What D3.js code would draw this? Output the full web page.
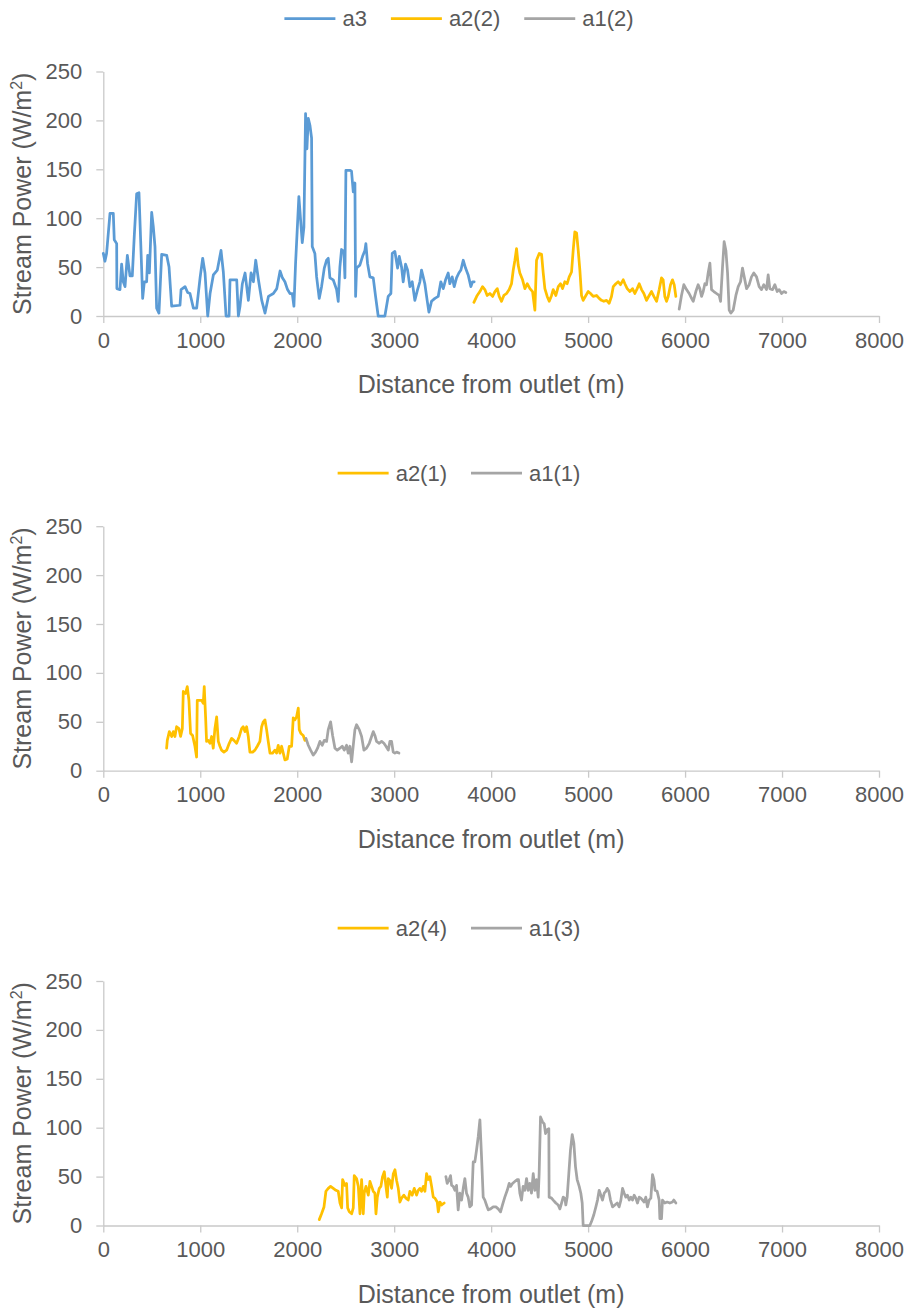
<!DOCTYPE html>
<html>
<head>
<meta charset="utf-8">
<script src="https://cdn.jsdelivr.net/npm/d3@7/dist/d3.min.js"></script>
<style>
  body { margin: 0; background: #fff; }
  text { font-family: "Liberation Sans", Arial, sans-serif; fill: #595959; }
</style>
</head>
<body>
<svg id="chart"></svg>
<script>
// tick labels
const xTicks = [0, 1000, 2000, 3000, 4000, 5000, 6000, 7000, 8000];
const yTicks = [0, 50, 100, 150, 200, 250];

// series: [distance from outlet (m), stream power (W/m2)]
const a3 = [[0,64],[17,56],[34,64],[69,105],[103,105],[113,78],[138,74],[140,28],[172,27],[189,53],[206,35],[224,30],[248,62],[275,41],[299,41],[320,83],[344,125],[368,126],[385,78],[406,18],[423,35],[447,35],[458,62],[475,44],[499,106],[516,91],[533,71],[550,8],[574,3],[602,63],[654,62],[678,50],[705,10],[791,11],[802,27],[843,30],[870,24],[894,23],[929,8],[963,8],[998,39],[1025,59],[1049,44],[1077,0],[1101,23],[1135,42],[1176,47],[1214,67],[1238,45],[1266,0],[1297,0],[1307,37],[1376,37],[1393,0],[1410,10],[1434,33],[1462,44],[1479,30],[1496,16],[1524,44],[1548,35],[1572,57],[1600,37],[1634,16],[1668,3],[1703,20],[1754,23],[1789,28],[1823,46],[1847,39],[1873,35],[1900,27],[1925,23],[1949,23],[1966,10],[1983,54],[2000,88],[2017,122],[2035,98],[2052,75],[2069,91],[2086,207],[2100,171],[2114,202],[2131,195],[2148,182],[2155,71],[2182,64],[2200,40],[2227,18],[2251,30],[2279,49],[2303,57],[2320,59],[2337,39],[2371,37],[2406,27],[2423,15],[2440,50],[2457,68],[2481,66],[2492,39],[2502,149],[2543,149],[2560,148],[2578,127],[2595,136],[2602,20],[2612,49],[2646,52],[2674,61],[2698,67],[2708,74],[2725,54],[2749,40],[2784,39],[2808,20],[2835,0],[2904,0],[2938,20],[2966,23],[2980,64],[3007,66],[3035,49],[3052,61],[3076,50],[3093,35],[3117,53],[3138,47],[3162,30],[3186,35],[3213,16],[3241,27],[3265,35],[3282,47],[3299,40],[3316,33],[3340,16],[3358,4],[3385,15],[3420,18],[3454,20],[3481,35],[3506,28],[3530,37],[3557,44],[3574,33],[3598,40],[3619,30],[3643,39],[3667,44],[3688,47],[3712,57],[3736,49],[3763,42],[3791,30],[3808,35],[3825,35]];
const a2_2 = [[3822,14],[3856,21],[3884,25],[3911,30],[3935,27],[3959,21],[3987,23],[4015,20],[4039,25],[4063,28],[4083,20],[4107,15],[4131,21],[4159,23],[4186,27],[4210,33],[4228,47],[4245,57],[4262,69],[4279,52],[4296,44],[4324,37],[4348,28],[4372,33],[4400,28],[4427,25],[4451,6],[4468,57],[4496,64],[4520,63],[4537,44],[4554,28],[4578,20],[4599,15],[4623,21],[4640,27],[4667,21],[4692,30],[4716,33],[4736,28],[4760,35],[4784,33],[4805,40],[4829,45],[4846,67],[4863,86],[4881,85],[4898,67],[4915,47],[4932,21],[4949,16],[4977,21],[5001,25],[5025,23],[5052,20],[5087,21],[5114,18],[5138,16],[5162,15],[5190,16],[5217,13],[5241,20],[5259,30],[5286,33],[5310,35],[5334,32],[5362,37],[5379,33],[5403,28],[5431,25],[5458,28],[5482,23],[5506,28],[5527,33],[5551,27],[5575,23],[5602,16],[5630,21],[5654,25],[5678,20],[5706,15],[5733,27],[5757,39],[5774,37],[5791,20],[5809,15],[5826,20],[5850,32],[5870,37],[5888,32],[5905,20]];
const a1_2 = [[5939,7],[5963,21],[5987,32],[6015,27],[6042,23],[6067,18],[6084,15],[6111,25],[6135,32],[6152,28],[6170,20],[6187,25],[6204,33],[6221,32],[6238,44],[6256,54],[6273,27],[6297,25],[6324,23],[6352,21],[6366,15],[6386,50],[6403,76],[6421,67],[6438,44],[6455,6],[6472,3],[6496,6],[6524,21],[6548,30],[6572,35],[6592,49],[6610,40],[6634,28],[6661,32],[6685,40],[6709,44],[6737,40],[6764,30],[6788,27],[6812,32],[6840,27],[6857,42],[6874,28],[6902,27],[6926,32],[6950,25],[6971,27],[6995,23],[7019,25],[7039,24]];
const a2_1 = [[653,23],[660,31],[681,40],[705,35],[722,40],[739,35],[756,45],[780,43],[797,35],[815,43],[825,81],[849,79],[866,86],[883,72],[900,38],[921,36],[945,25],[962,14],[969,72],[1014,72],[1031,69],[1041,86],[1055,55],[1065,30],[1083,31],[1100,28],[1117,35],[1134,23],[1151,43],[1169,55],[1186,30],[1203,25],[1220,21],[1244,19],[1272,21],[1299,28],[1323,33],[1347,31],[1375,28],[1402,35],[1426,43],[1443,45],[1461,40],[1478,45],[1495,35],[1512,19],[1540,19],[1564,21],[1588,25],[1615,30],[1633,45],[1650,50],[1667,52],[1684,42],[1701,30],[1719,18],[1746,18],[1770,21],[1787,18],[1804,26],[1822,18],[1839,25],[1856,18],[1873,11],[1897,12],[1918,25],[1942,25],[1959,54],[1976,52],[1993,55],[2011,64],[2021,42],[2038,38],[2062,36],[2079,31]];
const a1_1 = [[2090,33],[2114,26],[2138,21],[2165,16],[2189,19],[2210,23],[2234,30],[2258,26],[2279,31],[2303,30],[2320,42],[2344,50],[2365,36],[2389,23],[2413,21],[2440,23],[2464,25],[2485,21],[2509,26],[2526,18],[2543,25],[2561,9],[2578,26],[2595,42],[2612,47],[2640,42],[2664,35],[2688,21],[2715,23],[2743,28],[2767,35],[2784,40],[2801,36],[2818,30],[2846,28],[2870,30],[2894,28],[2915,25],[2939,21],[2956,30],[2973,30],[2990,19],[3007,18],[3025,19],[3049,18]];
const a2_4 = [[2227,6],[2251,12],[2276,19],[2296,35],[2320,38],[2344,40],[2372,38],[2399,36],[2423,35],[2441,23],[2458,18],[2468,47],[2492,41],[2509,43],[2520,18],[2537,14],[2561,12],[2578,18],[2588,51],[2612,48],[2630,40],[2647,12],[2664,47],[2681,12],[2691,33],[2709,40],[2733,31],[2750,45],[2767,40],[2784,35],[2801,33],[2812,12],[2826,29],[2846,38],[2863,40],[2880,50],[2898,55],[2915,40],[2929,29],[2939,48],[2956,46],[2973,38],[2991,53],[3008,57],[3025,46],[3042,38],[3059,24],[3076,28],[3100,31],[3121,28],[3145,26],[3162,35],[3186,31],[3207,38],[3231,31],[3248,36],[3265,38],[3282,35],[3300,40],[3317,35],[3334,53],[3351,47],[3368,50],[3386,40],[3403,29],[3420,28],[3444,24],[3455,14],[3472,24],[3489,21],[3516,23]];
const a1_3 = [[3533,50],[3547,43],[3567,47],[3581,51],[3592,41],[3609,40],[3626,36],[3643,41],[3660,16],[3677,33],[3695,26],[3712,38],[3729,48],[3746,33],[3763,29],[3780,19],[3798,21],[3815,65],[3832,65],[3849,77],[3867,91],[3884,108],[3901,70],[3918,29],[3935,26],[3952,21],[3970,16],[3994,17],[4021,19],[4049,19],[4073,17],[4097,14],[4117,21],[4141,29],[4166,36],[4186,43],[4200,40],[4220,43],[4244,45],[4269,47],[4282,47],[4296,33],[4313,26],[4330,40],[4348,36],[4365,48],[4382,36],[4399,43],[4416,33],[4434,53],[4451,36],[4468,47],[4485,29],[4495,53],[4509,111],[4530,106],[4547,104],[4561,94],[4578,98],[4595,99],[4598,29],[4623,28],[4640,26],[4667,23],[4691,21],[4709,17],[4726,23],[4743,29],[4760,28],[4770,21],[4784,29],[4801,53],[4818,77],[4836,93],[4853,84],[4870,60],[4887,47],[4908,40],[4925,33],[4939,23],[4949,0],[4984,0],[5018,0],[5035,4],[5059,11],[5080,19],[5097,26],[5114,36],[5131,31],[5148,26],[5166,33],[5183,35],[5197,38],[5214,35],[5231,26],[5252,19],[5276,21],[5300,23],[5320,19],[5338,26],[5355,38],[5372,33],[5389,29],[5406,31],[5424,26],[5441,29],[5458,26],[5475,31],[5492,28],[5509,23],[5527,29],[5544,28],[5561,26],[5578,24],[5595,29],[5612,19],[5629,26],[5647,28],[5664,52],[5678,47],[5691,36],[5712,35],[5733,26],[5740,7],[5757,7],[5767,26],[5791,23],[5815,24],[5843,23],[5870,24],[5884,26],[5905,23]];

const blue = "#5b9bd5", gold = "#ffc000", grey = "#a5a5a5";

const width = 909, height = 1310;
const svg = d3.select("#chart")
    .attr("width", width)
    .attr("height", height)
    .attr("viewBox", [0, 0, width, height]);

const x = d3.scaleLinear([0, 8000], [103.3, 879]);

function panel(top, series, {
    plotH = 244.5,   // 0 -> 250
    axisColor = "#c9c9c9",
    lineWidth = 2.75
} = {}) {
    const y = d3.scaleLinear([0, 250], [top + plotH, top]);
    const g = svg.append("g");

    // x axis
    g.append("g")
      .attr("transform", `translate(0,${top + plotH})`)
      .call(d3.axisBottom(x).tickValues(xTicks).tickFormat(d3.format("d"))
              .tickSize(7).tickSizeOuter(0).tickPadding(9))
      .call(a => a.selectAll("path,line").attr("stroke", axisColor).attr("stroke-width", 1.3))
      .call(a => a.selectAll("text").attr("font-size", 22).attr("font-family", null));

    // y axis
    g.append("g")
      .attr("transform", `translate(${x(0)},0)`)
      .call(d3.axisLeft(y).tickValues(yTicks).tickFormat(d3.format("d"))
              .tickSize(7).tickSizeOuter(0).tickPadding(14))
      .call(a => a.selectAll("path,line").attr("stroke", axisColor).attr("stroke-width", 1.3))
      .call(a => a.selectAll("text").attr("font-size", 22).attr("font-family", null));

    // axis titles
    g.append("text")
      .attr("x", (x(0) + x(8000)) / 2)
      .attr("y", top + plotH + 77)
      .attr("text-anchor", "middle")
      .attr("font-size", 25)
      .text("Distance from outlet (m)");

    const yt = g.append("text")
      .attr("transform", `translate(31,${top + plotH / 2}) rotate(-90)`)
      .attr("text-anchor", "middle")
      .attr("font-size", 25);
    yt.append("tspan").text("Stream Power (W/m");
    yt.append("tspan").attr("font-size", 16).attr("dy", -9).text("2");
    yt.append("tspan").attr("dy", 9).text(")");

    // lines
    const line = d3.line()
        .x(d => x(d[0]))
        .y(d => y(d[1]));

    g.append("g")
      .attr("fill", "none")
      .attr("stroke-width", lineWidth)
      .attr("stroke-linejoin", "round")
      .attr("stroke-linecap", "round")
    .selectAll("path")
    .data(series)
    .join("path")
      .attr("stroke", d => d.color)
      .attr("d", d => line(d.values));

    // legend, centered above the plot
    const legend = g.append("g").attr("transform", `translate(0,${top - 53})`);
    const items = legend.selectAll("g")
      .data(series)
      .join("g");
    items.append("line")
      .attr("x1", 0).attr("x2", 51)
      .attr("stroke", d => d.color)
      .attr("stroke-width", lineWidth);
    items.append("text")
      .attr("x", 58)
      .attr("dy", "0.35em")
      .attr("font-size", 22)
      .text(d => d.name);
    let offset = 0;
    const widths = [];
    items.each(function() {
        widths.push(this.getBBox().width);
    });
    const total = d3.sum(widths) + 24 * (widths.length - 1);
    const start = 459 - total / 2;
    items.attr("transform", (d, i) => {
        const tx = start + offset;
        offset += widths[i] + 24;
        return `translate(${tx},0)`;
    });
}

panel(71.5, [
    {name: "a3", color: blue, values: a3},
    {name: "a2(2)", color: gold, values: a2_2},
    {name: "a1(2)", color: grey, values: a1_2}
]);
panel(526.2, [
    {name: "a2(1)", color: gold, values: a2_1},
    {name: "a1(1)", color: grey, values: a1_1}
]);
panel(981, [
    {name: "a2(4)", color: gold, values: a2_4},
    {name: "a1(3)", color: grey, values: a1_3}
]);
</script>
</body>
</html>
